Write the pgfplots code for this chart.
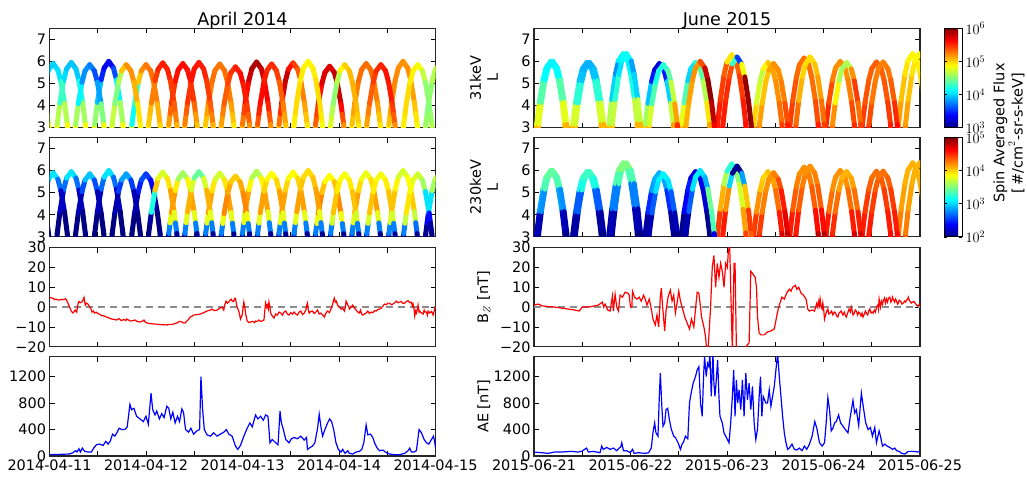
\documentclass[border=0pt]{standalone}
\usepackage{fontspec}
\setmainfont{DejaVu Sans}
\usepackage{pgfplots}
\usepackage{pgfplotstable}
\pgfplotsset{compat=1.18}
\newcommand\fs{\fontsize{14.5}{17}\selectfont}
\pgfplotsset{
  /pgf/number format/1000 sep={},
  panel/.style={
    scale only axis, width=386bp, height=99.3bp,
    xmin=0, xmax=1152, xtick={0,144,...,1152}, xticklabels={},
    tick align=inside, xtick pos=both, ytick pos=both,
    major tick length=5bp,
    axis line style={line width=1.1bp, black!85},
    tick style={black, line width=0.8bp},
    tick label style={font=\fs},
    /pgf/number format/assume math mode=true,
    ylabel style={font=\fs, align=center, at={(axis description cs:-0.13,0.5)}, anchor=center},
    title style={font=\fontsize{17.6}{20}\selectfont, yshift=-10bp},
  },
  flux/.style={panel, ymin=3, ymax=7.5, ytick={3,4,5,6,7}, colormap/jet},
  bz/.style={panel, ymin=-20, ymax=30, ytick={-20,-10,0,10,20,30}, yticklabels={−20,−10,0,10,20,30}},
  ae/.style={panel, ymin=0, ymax=1500, ytick={0,400,800,1200}},
  arc/.style={mesh, point meta=explicit, line width=5bp, line cap=round, shader=flat},
  cbar/.style={
    at={(parent axis.north east)}, anchor=north west, xshift=15.5bp,
    width=18bp, font=\fs,
    ytick pos=both, yticklabel pos=right,
    tick align=inside, major tick length=3bp,
    tick style={black, line width=0.6bp},
    axis line style={line width=0.8bp},
    tick label style={font=\fs},
    yticklabel style={font=\fs},
  },
}
% April 2014, probe A: time (5-min units from 2014-04-11 00:00), L, log10 flux 31 keV, log10 flux 230 keV
\pgfplotstableread{
t L a b
-31 5.61 4.0 2.8
-22 5.09 4.2 2.3
-11 4.10 4.6 2.0
-3 3.15 4.8 2.0
3 1.99 4.9 2.0
17 1.97 4.9 2.0
23 3.15 4.8 2.0
31 4.12 4.5 2.0
42 5.12 4.1 2.4
51 5.66 3.95 3.0
65 5.95 3.95 3.1
79 5.66 3.95 3.0
88 5.12 4.0 2.4
99 4.12 4.4 2.0
107 3.15 4.8 2.0
113 1.97 4.9 2.0
129 1.95 4.9 2.0
135 3.15 4.8 2.0
143 4.14 4.3 2.0
154 5.16 3.6 2.4
163 5.70 3.35 3.0
177 6.00 3.3 3.1
191 5.70 3.4 3.0
200 5.16 3.8 2.4
211 4.14 4.4 2.0
219 3.15 4.8 2.0
225 1.95 4.9 2.0
240 2.00 4.8 2.0
246 3.14 4.6 2.0
254 4.08 3.7 2.0
265 5.05 4.9 2.3
274 5.57 5.2 2.6
288 5.85 5.25 2.6
302 5.57 5.3 2.5
311 5.05 5.3 2.2
322 4.08 5.2 2.0
330 3.14 5.0 2.0
336 2.00 5.0 2.0
350 1.99 5.0 2.0
356 3.15 5.1 2.1
360 3.63 5.25 3.4
364 4.10 5.4 4.2
375 5.09 5.55 4.15
384 5.61 5.6 3.7
398 5.90 5.6 3.5
412 5.61 5.6 3.7
421 5.09 5.55 4.1
432 4.10 5.4 4.2
436 3.63 5.25 3.4
440 3.15 5.1 2.1
446 1.99 5.0 2.0
460 1.99 4.9 2.0
466 3.14 5.0 2.1
470 3.62 5.1 3.4
474 4.09 5.2 4.2
485 5.07 5.3 4.1
494 5.59 5.3 3.8
508 5.88 5.25 3.7
522 5.59 5.3 3.8
531 5.07 5.3 4.1
542 4.09 5.2 4.2
546 3.62 5.1 3.4
550 3.14 5.0 2.1
556 1.99 4.9 2.0
570 1.96 5.0 2.0
576 3.15 5.2 2.1
580 3.64 5.35 3.4
584 4.13 5.5 4.2
595 5.14 5.7 4.1
604 5.67 5.85 3.7
618 5.97 5.9 3.6
632 5.67 5.85 3.7
641 5.14 5.7 4.1
652 4.13 5.6 4.2
656 3.64 5.45 3.4
660 3.15 5.3 2.1
666 1.96 5.1 2.0
679 1.97 5.0 2.0
685 3.15 5.2 2.1
689 3.63 5.4 3.4
693 4.11 5.6 4.2
704 5.11 5.9 4.1
713 5.64 5.7 3.9
727 5.93 5.5 3.85
741 5.64 5.4 3.9
750 5.11 5.3 4.1
761 4.11 5.2 4.2
765 3.63 5.1 3.4
769 3.15 5.0 2.1
775 1.97 4.9 2.0
788 2.03 5.0 2.0
794 3.14 5.3 2.1
798 3.60 5.4 3.4
802 4.06 5.5 4.25
813 5.00 5.7 4.2
822 5.50 5.75 3.9
836 5.78 5.7 3.85
850 5.50 5.75 3.9
859 5.00 5.85 4.2
870 4.06 5.7 4.25
874 3.60 5.5 3.4
878 3.14 5.3 2.1
884 2.03 5.1 2.0
897 1.99 4.9 2.0
903 3.15 5.0 2.1
907 3.63 5.1 3.4
911 4.10 5.2 4.2
922 5.09 5.3 4.1
931 5.61 5.3 3.85
945 5.90 5.3 3.8
959 5.61 5.3 3.85
968 5.09 5.3 4.1
979 4.10 5.2 4.2
983 3.63 5.1 3.4
987 3.15 5.0 2.1
993 1.99 4.9 2.0
1007 1.95 4.9 2.0
1013 3.15 5.0 2.1
1017 3.64 5.1 3.4
1021 4.14 5.2 4.1
1032 5.16 5.25 4.0
1041 5.70 5.2 3.8
1055 6.00 5.2 3.7
1069 5.70 5.2 3.8
1078 5.16 5.2 3.95
1089 4.14 5.1 4.1
1093 3.64 5.0 3.3
1097 3.15 4.9 2.1
1103 1.95 4.8 2.0
1117 1.99 4.7 2.0
1123 3.15 4.6 2.0
1127 3.63 4.55 2.1
1131 4.10 4.5 2.6
1142 5.09 4.6 3.5
1151 5.61 4.7 3.7
1165 5.90 4.7 3.7
}\aprA
% April 2014, probe B
\pgfplotstableread{
t L a b
-37 1.99 4.9 2.0
-31 3.15 4.8 2.0
-23 4.10 4.5 2.0
-12 5.09 4.1 2.4
-3 5.61 4.0 3.0
11 5.90 4.0 3.1
25 5.61 4.0 3.0
34 5.09 4.1 2.4
45 4.10 4.5 2.0
53 3.15 4.8 2.0
59 1.99 4.9 2.0
72 2.00 4.9 2.0
78 3.14 4.8 2.0
86 4.08 4.4 2.0
97 5.05 3.8 2.3
106 5.57 3.8 2.9
120 5.85 3.8 3.0
134 5.57 3.7 2.9
143 5.05 3.5 2.3
154 4.08 4.2 2.0
162 3.14 4.8 2.0
168 2.00 4.9 2.0
181 2.00 4.8 2.0
187 3.14 4.8 2.0
195 4.08 4.6 2.0
206 5.05 4.4 2.3
215 5.57 4.9 2.8
229 5.85 5.2 2.9
243 5.57 5.2 2.8
252 5.05 5.2 2.3
263 4.08 5.0 2.0
271 3.14 4.9 2.0
277 2.00 4.9 2.0
290 1.97 4.9 2.0
296 3.15 5.0 2.0
300 3.63 5.05 2.0
304 4.11 5.1 2.2
315 5.11 5.4 4.2
324 5.64 5.5 3.9
338 5.93 5.55 3.7
352 5.64 5.55 3.8
361 5.11 5.5 4.1
372 4.11 5.4 4.2
376 3.63 5.3 3.4
380 3.15 5.2 2.1
386 1.97 5.0 2.0
398 1.97 5.0 2.0
404 3.15 5.2 2.1
408 3.64 5.3 3.4
412 4.12 5.4 4.2
423 5.12 5.55 4.0
432 5.66 5.6 3.5
446 5.95 5.55 3.35
460 5.66 5.55 3.5
469 5.12 5.5 4.0
480 4.12 5.4 4.2
484 3.64 5.3 3.4
488 3.15 5.2 2.1
494 1.97 5.0 2.0
507 2.04 5.0 2.0
513 3.14 5.1 2.1
517 3.60 5.2 3.4
521 4.05 5.3 4.25
532 4.98 5.4 4.2
541 5.48 5.45 4.05
555 5.75 5.5 4.0
569 5.48 5.6 4.05
578 4.98 5.6 4.2
589 4.05 5.5 4.25
593 3.60 5.4 3.4
597 3.14 5.3 2.1
603 2.04 5.1 2.0
615 1.99 5.0 2.0
621 3.14 5.3 2.1
625 3.62 5.45 3.4
629 4.09 5.6 4.2
640 5.07 5.6 4.1
649 5.59 5.5 3.9
663 5.88 5.5 3.85
677 5.59 5.5 3.9
686 5.07 5.4 4.1
697 4.09 5.3 4.2
701 3.62 5.2 3.4
705 3.14 5.1 2.1
711 1.99 5.0 2.0
724 1.95 4.9 2.0
730 3.15 4.9 2.1
734 3.64 4.95 3.4
738 4.14 5.0 4.2
749 5.16 4.95 4.1
758 5.70 4.9 4.0
772 6.00 4.9 3.95
786 5.70 4.9 4.0
795 5.16 4.95 4.1
806 4.14 5.0 4.2
810 3.64 4.95 3.4
814 3.15 4.9 2.1
820 1.95 4.8 2.0
833 2.00 4.9 2.0
839 3.14 4.8 2.1
843 3.61 4.7 3.4
847 4.08 4.6 4.1
858 5.05 4.5 4.0
867 5.57 4.8 3.85
881 5.85 5.0 3.85
895 5.57 5.05 3.85
904 5.05 5.1 4.0
915 4.08 5.1 4.1
919 3.61 5.05 3.4
923 3.14 5.0 2.1
929 2.00 4.9 2.0
941 2.00 5.0 2.0
947 3.14 5.1 2.1
951 3.61 5.2 3.4
955 4.08 5.3 4.1
966 5.05 5.4 4.0
975 5.57 5.5 3.85
989 5.85 5.5 3.85
1003 5.57 5.55 3.85
1012 5.05 5.6 4.0
1023 4.08 5.5 4.1
1027 3.61 5.4 3.4
1031 3.14 5.3 2.1
1037 2.00 5.1 2.0
1051 2.00 4.9 2.0
1057 3.14 4.9 2.1
1061 3.61 4.95 3.4
1065 4.08 5.0 4.0
1076 5.05 4.95 3.9
1085 5.57 4.9 3.8
1099 5.85 4.9 3.75
1113 5.57 4.8 3.7
1122 5.05 4.6 3.5
1133 4.08 4.5 2.6
1137 3.61 4.55 2.2
1141 3.14 4.6 2.0
1147 2.00 4.7 2.0
}\aprB
% June 2015, probe A (5-min units from 2015-06-21 00:00)
\pgfplotstableread{
t L a b
2 1.95 5.2 2.0
8 3.15 5.0 2.0
16 4.14 4.6 2.4
27 5.16 4.15 3.3
36 5.70 4.1 3.4
50 6.00 4.1 3.45
64 5.70 4.1 3.4
73 5.16 4.15 3.3
84 4.14 4.6 2.4
92 3.15 5.0 2.0
98 1.95 5.2 2.0
110 1.97 5.2 2.0
116 3.15 5.0 2.0
124 4.12 4.5 2.2
135 5.12 4.0 3.1
144 5.66 3.9 3.3
158 5.95 3.9 3.3
172 5.66 3.9 3.3
181 5.12 4.0 3.1
192 4.12 4.5 2.2
200 3.15 5.0 2.0
206 1.97 5.2 2.0
218 1.83 5.2 2.0
224 3.17 4.9 2.0
232 4.27 4.4 2.3
243 5.41 3.6 3.2
252 6.02 4.0 3.5
266 6.35 4.2 3.5
280 6.02 4.2 3.5
289 5.41 4.0 3.2
300 4.27 4.4 2.3
308 3.17 5.0 2.0
314 1.83 5.2 2.0
326 1.99 5.2 2.0
332 3.15 4.9 2.0
340 4.10 4.3 2.2
351 5.09 3.6 2.8
360 5.61 3.3 2.9
374 5.90 3.2 2.9
388 5.61 3.3 2.9
397 5.09 3.6 2.8
408 4.10 4.4 2.2
416 3.15 5.0 2.0
422 1.99 5.3 2.0
434 1.97 5.2 2.0
440 3.15 5.0 2.0
448 4.12 4.6 2.1
459 5.12 4.1 2.6
468 5.66 3.9 2.3
482 5.95 4.2 2.3
496 5.66 4.3 2.2
505 5.12 4.5 2.4
516 4.12 4.8 2.1
524 3.15 5.1 2.0
530 1.97 5.2 2.0
542 1.85 5.5 4.4
548 3.17 5.6 4.5
556 4.25 5.5 4.4
567 5.38 5.4 3.8
576 5.97 5.3 3.5
590 6.30 4.6 3.0
604 5.97 5.3 3.5
613 5.38 5.4 3.6
624 4.25 5.5 3.9
632 3.17 5.6 4.4
638 1.85 5.6 4.5
650 1.97 5.3 4.7
656 3.15 5.1 4.6
664 4.12 4.9 4.3
675 5.12 4.6 4.1
684 5.66 4.8 4.0
698 5.95 5.0 4.0
712 5.66 5.1 4.1
721 5.12 5.2 4.2
732 4.12 5.2 4.4
740 3.15 5.4 4.7
746 1.97 5.5 4.8
758 1.90 5.5 4.8
764 3.16 5.5 4.7
772 4.20 5.4 4.4
783 5.27 5.35 4.3
792 5.84 5.3 4.2
806 6.15 5.3 4.2
820 5.84 5.3 4.2
829 5.27 5.3 4.3
840 4.20 5.3 4.4
848 3.16 5.5 4.8
854 1.90 5.6 4.9
866 1.95 5.5 4.8
872 3.15 5.5 4.7
880 4.14 5.5 4.4
891 5.16 5.3 4.2
900 5.70 5.2 4.2
914 6.00 5.2 4.2
928 5.70 5.2 4.2
937 5.16 5.2 4.2
948 4.14 5.3 4.4
956 3.15 5.5 4.7
962 1.95 5.5 4.8
974 1.96 5.6 4.6
980 3.15 5.5 4.6
988 4.13 5.4 4.5
999 5.14 5.35 4.4
1008 5.67 5.35 4.3
1022 5.97 5.35 4.3
1036 5.67 5.35 4.3
1045 5.14 5.35 4.4
1056 4.13 5.4 4.5
1064 3.15 5.5 4.6
1070 1.96 5.6 4.6
1082 1.83 5.3 4.4
1088 3.17 5.2 4.3
1096 4.27 5.1 4.2
1107 5.41 5.0 4.1
1116 6.02 4.9 4.1
1130 6.35 4.9 4.1
1144 6.02 4.9 4.1
1153 5.41 4.95 4.1
1164 4.27 5.0 4.2
}\junA
% June 2015, probe B
\pgfplotstableread{
t L a b
8 1.95 5.2 2.0
14 3.15 5.0 2.0
22 4.14 4.6 2.3
33 5.16 4.15 3.3
42 5.70 4.1 3.4
56 6.00 4.1 3.4
70 5.70 4.1 3.4
79 5.16 4.15 3.3
90 4.14 4.6 2.3
98 3.15 5.0 2.0
104 1.95 5.2 2.0
118 1.97 5.2 2.0
124 3.15 5.0 2.0
132 4.12 4.5 2.2
143 5.12 4.0 3.1
152 5.66 3.9 3.3
166 5.95 3.9 3.3
180 5.66 3.9 3.3
189 5.12 4.0 3.1
200 4.12 4.5 2.2
208 3.15 5.0 2.0
214 1.97 5.2 2.0
228 1.83 5.2 2.0
234 3.17 4.9 2.0
242 4.27 4.5 2.3
253 5.41 4.0 3.2
262 6.02 4.1 3.5
276 6.35 4.2 3.5
290 6.02 4.1 3.5
299 5.41 3.6 3.2
310 4.27 4.4 2.3
318 3.17 5.0 2.0
324 1.83 5.2 2.0
338 2.00 5.2 2.0
344 3.14 5.0 2.0
352 4.08 4.5 2.3
363 5.05 4.2 3.0
372 5.57 4.2 3.1
386 5.85 4.2 3.1
400 5.57 4.3 3.1
409 5.05 4.5 3.0
420 4.08 4.9 2.3
428 3.14 5.4 2.0
434 2.00 5.6 2.0
448 1.95 5.2 2.0
454 3.15 5.1 2.0
462 4.14 5.1 2.3
473 5.16 5.2 3.0
482 5.70 5.2 3.1
496 6.00 5.2 3.1
510 5.70 5.6 3.0
519 5.16 5.95 2.8
530 4.14 5.95 4.1
538 3.15 5.7 2.6
544 1.95 5.6 2.0
558 1.88 5.6 4.5
564 3.16 5.6 4.6
572 4.22 5.5 4.5
583 5.30 5.5 3.9
592 5.88 5.3 2.1
606 6.20 3.3 2.0
620 5.88 3.8 2.1
629 5.30 5.9 3.6
640 4.22 5.95 4.5
648 3.16 5.95 4.4
654 1.88 5.9 4.3
667 1.99 5.3 4.7
673 3.15 5.2 4.6
681 4.10 5.1 4.3
692 5.09 5.0 4.2
701 5.61 5.1 4.2
715 5.90 5.2 4.2
729 5.61 5.2 4.3
738 5.09 5.2 4.5
749 4.10 5.3 4.6
757 3.15 5.5 4.8
763 1.99 5.6 4.8
776 1.88 5.5 4.8
782 3.16 5.4 4.7
790 4.22 5.2 4.4
801 5.30 5.0 4.3
810 5.88 5.0 4.2
824 6.20 4.95 4.2
838 5.88 5.0 4.2
847 5.30 5.1 4.3
858 4.22 5.2 4.4
866 3.16 5.4 4.8
872 1.88 5.5 4.9
885 1.97 5.4 4.7
891 3.15 5.3 4.6
899 4.12 5.1 4.4
910 5.12 4.7 4.2
919 5.66 4.6 4.1
933 5.95 4.6 4.1
947 5.66 4.7 4.1
956 5.12 5.7 4.2
967 4.12 5.2 4.4
975 3.15 5.4 4.7
981 1.97 5.5 4.8
994 1.96 5.6 4.6
1000 3.15 5.5 4.6
1008 4.13 5.3 4.5
1019 5.14 5.25 4.4
1028 5.67 5.25 4.3
1042 5.97 5.25 4.3
1056 5.67 5.25 4.3
1065 5.14 5.3 4.4
1076 4.13 5.4 4.5
1084 3.15 5.6 4.6
1090 1.96 5.6 4.6
1103 1.83 5.3 4.4
1109 3.17 5.2 4.3
1117 4.27 5.1 4.2
1128 5.41 5.0 4.1
1137 6.02 4.9 4.1
1151 6.35 4.9 4.1
1165 6.02 4.9 4.1
}\junB
\begin{document}
\begin{tikzpicture}
% ---------------- April 2014 ----------------
\begin{axis}[flux, at={(49.5bp,-28.3bp)}, anchor=north west,
  point meta min=3, point meta max=6, title={April 2014}]
\addplot[arc] table[x=t,y=L,meta=a]{\aprA};
\addplot[arc] table[x=t,y=L,meta=a]{\aprB};
\end{axis}
\begin{axis}[flux, at={(49.5bp,-137.5bp)}, anchor=north west,
  point meta min=2, point meta max=5]
\addplot[arc] table[x=t,y=L,meta=b]{\aprA};
\addplot[arc] table[x=t,y=L,meta=b]{\aprB};
\end{axis}
\begin{axis}[bz, at={(49.5bp,-247.5bp)}, anchor=north west]
\addplot[black!45, line width=1.4bp, dash pattern=on 7bp off 5bp] coordinates {(0,0) (1152,0)};
\addplot[red, line width=1.2bp] coordinates {
(0,5) (5,4.6) (10,4.5) (15,3.8) (20,4) (25,3.6) (30,3.5) (35,3.9) (40,3.7) (48,4.2)
(52,3.2) (55,2) (60,0) (65,-2) (70,-3) (74,-2.2) (77,-1.5) (81,-2.5) (85,1.5) (88,2.8)
(92,2.2) (96,2.5) (100,3.5) (103,4.8) (105,2.5) (107,1) (110,2) (115,1.5) (120,0)
(124,-1) (127,-2.5) (131,-2) (135,-3) (140,-2.6) (145,-3.3) (150,-3.6) (155,-4.3)
(162,-4.4) (170,-5) (177,-5.4) (185,-6) (192,-6.2) (200,-6.5) (207,-5.8) (212,-6.5)
(215,-6.8) (222,-6.2) (228,-6.8) (230,-6) (235,-6.4) (240,-7) (247,-6.9) (255,-6.5)
(262,-7.3) (270,-7.5) (276,-7.2) (282,-6.5) (286,-7.6) (290,-8) (300,-8.3) (310,-8.5)
(320,-8.6) (330,-8.8) (340,-8.9) (350,-9) (358,-8.7) (365,-8.8) (372,-8.4) (380,-8)
(388,-7.2) (395,-7.5) (400,-7.9) (405,-8) (410,-7) (415,-6.2) (420,-5) (425,-4.6)
(430,-4) (440,-3.8) (450,-3.5) (460,-2.8) (470,-2) (478,-1.6) (485,-1) (492,-1.8)
(500,-1.5) (508,-0.6) (515,0) (520,-1.5) (523,1) (527,3) (531,2) (535,2.5) (539,3.5)
(542,4) (546,2.8) (550,3) (553,4.5) (555,4.3) (558,1.5) (560,0) (565,-2) (570,-6)
(575,-4) (578,0) (580,2.5) (583,0) (585,-3) (590,-7) (595,-7.8) (600,-7.5) (607,-7.2)
(612,-7.8) (615,-7) (620,-7.3) (625,-6.5) (630,-7.2) (635,-7) (640,-6.5) (643,-1)
(645,2) (648,0) (650,1) (653,-1) (655,2.5) (658,0) (660,-3) (665,-4.5) (670,-5.5)
(675,-3.5) (680,-4) (685,-2.5) (690,-3) (695,-4) (700,-2.5) (705,-2) (710,-3.5)
(715,-4) (720,-2.8) (725,-3.5) (730,-2.5) (735,-3.5) (740,-4) (745,-2.5) (750,-2)
(755,-3.8) (760,-3) (765,-1.5) (768,1) (770,2) (772,-1) (775,-3) (780,-2.2) (785,-2)
(790,-3.2) (795,-2.5) (800,-1.5) (805,-3.5) (810,-3) (815,-4) (820,-5) (825,-3)
(830,-2) (835,-2.8) (840,-1) (845,1.5) (848,3.5) (850,4.5) (853,2.5) (856,3) (860,1)
(865,0) (870,-1) (875,-0.5) (880,-2) (883,0) (885,3) (888,2) (890,1) (893,0.5)
(895,-1) (900,0) (905,1) (910,-0.5) (915,-1.5) (920,-2.5) (925,-3) (928,-1.5)
(932,-3.5) (935,-4) (940,-3.5) (945,-3) (950,-2) (955,-3.2) (960,-2.5) (965,-2.8)
(970,-1.8) (975,-2) (980,-1.2) (985,-1) (990,-0.5) (995,0.5) (1000,1.5) (1005,1.2)
(1010,2) (1015,2) (1020,1.2) (1025,1.5) (1030,2.2) (1035,3) (1040,2.2) (1045,2.5)
(1050,2.8) (1055,1.8) (1060,2) (1065,2.8) (1070,3.2) (1075,2.2) (1080,2.5) (1083,0.5)
(1085,1.5) (1088,-1) (1090,-4.5) (1093,-2) (1095,-3) (1098,-1) (1100,1) (1103,-2.5)
(1105,-2) (1110,-3) (1115,-3.5) (1118,-1.5) (1120,-2.5) (1125,-2.5) (1128,-4)
(1130,-2) (1135,-3) (1140,-2.2) (1145,-4) (1148,-2) (1152,0.5)};
\end{axis}
\begin{axis}[ae, at={(49.5bp,-356.7bp)}, anchor=north west,
  xticklabels={2014-04-11,,2014-04-12,,2014-04-13,,2014-04-14,,2014-04-15}]
\addplot[blue, line width=1.2bp] coordinates {
(0,20) (30,25) (60,30) (70,50) (78,80) (82,60) (88,110) (92,60) (98,120) (105,70)
(115,60) (125,60) (132,120) (140,170) (150,180) (160,160) (168,220) (175,180)
(182,230) (188,330) (195,300) (202,360) (208,420) (215,400) (225,400) (232,440)
(240,780) (245,700) (252,720) (260,600) (270,560) (280,520) (288,600) (295,480)
(303,950) (308,700) (315,620) (320,680) (328,560) (335,640) (342,580) (350,750)
(356,720) (362,560) (368,660) (375,500) (382,600) (388,520) (395,710) (400,660)
(406,400) (415,360) (422,420) (430,330) (440,380) (448,400) (452,1200) (457,700)
(462,400) (470,320) (480,300) (490,350) (500,300) (510,330) (520,360) (528,400)
(535,330) (545,300) (555,150) (562,100) (570,160) (580,300) (590,420) (598,500)
(605,440) (615,620) (622,560) (630,600) (638,540) (645,620) (652,600) (658,200)
(665,250) (675,200) (682,170) (688,680) (692,500) (698,400) (705,250) (715,200)
(722,260) (730,280) (740,260) (750,300) (760,240) (767,280) (770,100) (778,130)
(785,150) (792,200) (800,420) (805,630) (810,440) (815,300) (822,400) (830,500)
(836,560) (842,520) (848,400) (855,200) (862,100) (870,60) (875,100) (882,40)
(890,80) (895,40) (905,30) (915,60) (925,70) (932,100) (938,200) (945,470) (950,320)
(958,330) (965,280) (970,200) (978,120) (985,80) (995,90) (1005,50) (1015,30)
(1030,20) (1045,20) (1060,40) (1070,80) (1075,120) (1080,60) (1088,60) (1095,80)
(1103,400) (1110,350) (1118,250) (1125,200) (1132,180) (1140,250) (1146,300)
(1150,200) (1152,120)};
\end{axis}
% ---------------- June 2015 ----------------
\begin{axis}[flux, at={(534bp,-28.3bp)}, anchor=north west,
  point meta min=3, point meta max=6, title={June 2015}, ylabel={31keV\\L},
  colorbar, colorbar style={cbar, ytick={3,4,5,6},
    yticklabels={$10^{3}$,$10^{4}$,$10^{5}$,$10^{6}$}}]
\addplot[arc] table[x=t,y=L,meta=a]{\junA};
\addplot[arc] table[x=t,y=L,meta=a]{\junB};
\end{axis}
\begin{axis}[flux, at={(534bp,-137.5bp)}, anchor=north west,
  point meta min=2, point meta max=5, ylabel={230keV\\L},
  colorbar, colorbar style={cbar, ytick={2,3,4,5},
    yticklabels={$10^{2}$,$10^{3}$,$10^{4}$,$10^{5}$}}]
\addplot[arc] table[x=t,y=L,meta=b]{\junA};
\addplot[arc] table[x=t,y=L,meta=b]{\junB};
\end{axis}
\begin{axis}[bz, at={(534bp,-247.5bp)}, anchor=north west, ylabel={$\mathrm{B}_Z$ [nT]}]
\addplot[black!45, line width=1.4bp, dash pattern=on 7bp off 5bp] coordinates {(0,0) (1152,0)};
\addplot[red, line width=1.2bp] coordinates {
(0,1) (12,1.5) (27,0.5) (42,0.3) (62,0) (82,-0.5) (102,-1) (122,-1.5) (135,-2) (144,0)
(162,0) (177,0.5) (192,1) (204,2.5) (208,0) (212,1.5) (220,-1.5) (227,-2) (234,5.5)
(237,-2) (242,6.5) (247,0) (252,-2) (257,6) (264,5) (272,7.5) (280,7) (284,6) (288,0)
(292,0) (294,8) (300,5) (307,4) (314,5) (320,3) (327,6) (332,4) (337,1) (344,4)
(349,0) (355,-6) (362,-9) (367,-4) (372,-10) (377,5) (380,9.5) (384,0) (390,-12)
(394,-2) (400,5) (407,8.5) (412,3) (417,6) (422,-3) (427,2) (432,8) (437,3) (442,0)
(450,-5) (457,-8) (464,-11) (470,-6) (477,-10) (482,-1) (487,7.5) (492,7) (497,0)
(500,-5) (507,-10) (512,-15) (515,-21) (520,-20) (527,0) (532,20) (537,26) (542,10)
(547,22) (552,15) (557,22) (562,18) (567,10) (572,22) (577,20) (580,28) (584,31)
(587,10) (592,-22) (597,22) (600,22) (604,-21) (612,-25) (622,-25) (632,-20)
(642,-18) (647,18) (652,17) (660,15) (664,10) (667,-5) (672,-13) (677,-14) (687,-14)
(697,-12.5) (707,-12) (717,-11) (724,-5) (730,0) (734,2) (740,5) (747,4) (754,7)
(762,9) (767,8) (772,10) (780,11) (784,9) (790,10) (797,7) (804,6) (812,4) (817,-1)
(822,-2) (830,-1.5) (837,-2) (844,2) (847,0) (850,3) (852,1) (854,4) (857,0)
(860,-1) (862,2) (865,-2) (867,-6) (870,-4) (872,-3) (875,-1.5) (877,-1) (880,-3.5)
(884,-3) (888,-2) (892,-4) (896,-2.5) (900,-3) (903,-4.5) (907,-5) (910,-3)
(914,-2.5) (917,-2) (920,-3.5) (922,-4) (926,-2.5) (929,-4) (932,-5) (936,-3)
(940,-1) (944,-2.5) (947,0) (950,-2) (952,-4) (956,-3) (959,-1.5) (962,-2) (966,-4)
(969,-2.5) (972,-3) (976,-4.5) (979,-3) (982,-5) (986,-3.5) (989,-2) (992,-3)
(996,-4) (999,-2) (1002,-1) (1006,-3) (1009,-2.5) (1012,-3) (1016,-1.5) (1019,-2.5)
(1022,0) (1026,1) (1028,-1) (1030,4) (1034,0) (1037,3) (1040,1.5) (1042,3)
(1046,4.5) (1049,2) (1052,4) (1055,2.5) (1058,4.5) (1062,5) (1065,2.5) (1067,3)
(1070,5) (1072,4) (1076,2.5) (1079,4) (1082,3) (1085,1.5) (1087,2) (1090,3.5)
(1094,3) (1098,1.5) (1102,2) (1106,3) (1109,2.5) (1112,3.5) (1115,4) (1117,5)
(1120,3.5) (1122,3) (1126,2) (1130,2.5) (1134,2.8) (1137,2) (1141,1.2) (1144,0.5)
(1148,1) (1152,1.5)};
\end{axis}
\begin{axis}[ae, at={(534bp,-356.7bp)}, anchor=north west, ylabel={AE [nT]},
  xticklabels={2015-06-21,,2015-06-22,,2015-06-23,,2015-06-24,,2015-06-25}]
\addplot[blue, line width=1.2bp] coordinates {
(0,60) (22,50) (42,40) (62,60) (82,60) (112,70) (132,60) (142,70) (157,120) (162,60)
(177,70) (197,50) (202,150) (207,100) (217,130) (227,100) (237,120) (247,80)
(252,110) (259,140) (262,200) (267,80) (277,80) (287,50) (294,100) (299,40) (312,50)
(332,40) (342,50) (350,120) (355,350) (360,500) (364,350) (370,300) (374,900)
(377,1250) (382,700) (385,450) (390,500) (394,700) (399,720) (404,550) (410,400)
(417,300) (422,280) (430,200) (437,100) (442,180) (447,220) (452,300) (459,260)
(464,800) (469,950) (475,1100) (482,1200) (487,1300) (492,1350) (497,800) (502,600)
(506,1200) (509,1500) (514,1200) (518,1400) (522,1350) (525,1550) (529,900)
(534,1550) (537,1100) (540,900) (544,1150) (548,1450) (552,900) (555,600) (562,500)
(567,350) (572,300) (577,250) (582,200) (587,500) (592,900) (596,1300) (600,600)
(604,1150) (608,800) (612,1000) (617,700) (622,1150) (627,600) (632,1250) (637,850)
(642,1100) (647,700) (652,1050) (657,500) (662,250) (667,400) (672,900) (676,1200)
(680,600) (684,900) (688,850) (692,800) (697,800) (702,1000) (707,750) (712,900)
(717,1050) (722,1300) (727,1550) (732,1200) (737,900) (742,600) (747,350) (752,200)
(757,100) (762,120) (770,180) (777,100) (784,90) (792,120) (800,80) (807,150)
(814,100) (822,180) (830,300) (838,520) (844,420) (852,200) (860,150) (867,200)
(872,500) (877,880) (882,700) (887,380) (892,420) (897,500) (902,520) (909,620)
(915,500) (922,450) (929,400) (937,350) (944,600) (952,840) (957,650) (962,700)
(969,460) (977,950) (984,700) (990,500) (997,400) (1004,430) (1010,300) (1017,430)
(1022,200) (1030,380) (1034,300) (1040,150) (1047,180) (1054,150) (1062,130)
(1070,100) (1077,120) (1082,80) (1090,70) (1097,40) (1107,30) (1117,70) (1132,70)
(1147,60) (1152,80)};
\end{axis}
\node[rotate=90, align=center, font=\fs] at (1009bp,-133bp)
  {Spin Averaged Flux\\{[}\,\#/cm$^2$-sr-s-keV{]}};
\pgfresetboundingbox
\path[use as bounding box] (0,0) rectangle (1027bp,-477bp);
\end{tikzpicture}
\end{document}
